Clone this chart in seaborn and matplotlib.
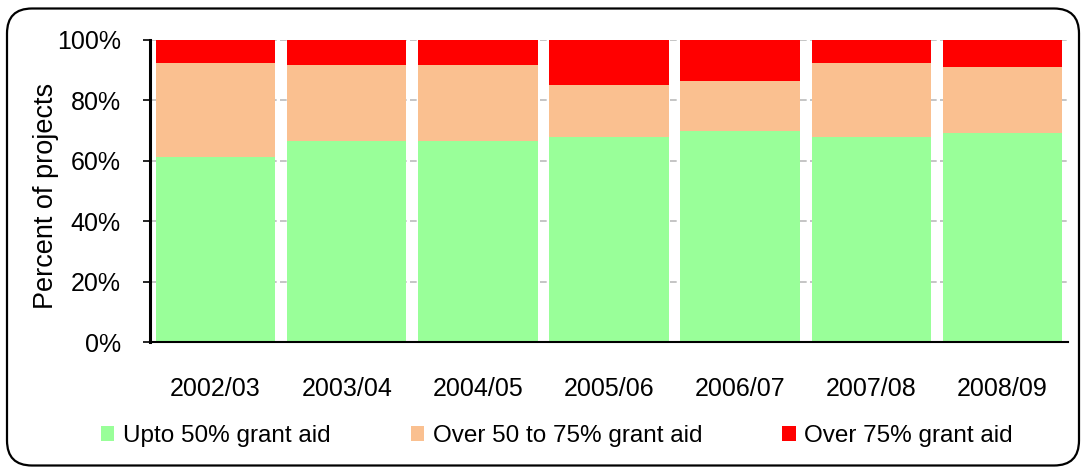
import matplotlib
matplotlib.use("Agg")
import matplotlib.pyplot as plt
from matplotlib.patches import FancyBboxPatch, Patch
from matplotlib.ticker import FixedLocator, PercentFormatter
import numpy as np
import pandas as pd
import seaborn as sns

# Share of projects by grant-aid band, per financial year (percent)
years = ["2002/03", "2003/04", "2004/05", "2005/06", "2006/07", "2007/08", "2008/09"]
upto_50 = [61.2, 66.6, 66.6, 67.9, 69.8, 67.9, 69.2]
over_50_75 = [31.2, 25.2, 25.2, 17.3, 16.7, 24.5, 21.9]
over_75 = [7.6, 8.2, 8.2, 14.8, 13.5, 7.6, 8.9]

series_names = ["Upto 50% grant aid", "Over 50 to 75% grant aid", "Over 75% grant aid"]
series_colors = ["#99FF99", "#FAC090", "#FF0000"]

sns.set_theme(style="white")
plt.rcParams["font.family"] = ["Liberation Sans", "DejaVu Sans"]
plt.rcParams["text.color"] = "black"
plt.rcParams["axes.labelcolor"] = "black"
plt.rcParams["xtick.color"] = "black"
plt.rcParams["ytick.color"] = "black"

fig = plt.figure(figsize=(10.83, 4.68), dpi=100)
ax = fig.add_axes([150 / 1083, 1 - 342 / 468, 918 / 1083, 302 / 468])

df = pd.DataFrame({"year": years, "low": upto_50, "mid": over_50_75, "high": over_75})
bottom = np.zeros(len(years))
for col, color in zip(["low", "mid", "high"], series_colors):
    sns.barplot(data=df, x="year", y=col, color=color, width=0.91,
                bottom=bottom, linewidth=0, saturation=1, ax=ax, zorder=2)
    bottom = bottom + df[col].to_numpy()

ax.set_xlim(-0.5, len(years) - 0.5)
ax.set_ylim(0, 100)
ax.yaxis.set_major_locator(FixedLocator([0, 20, 40, 60, 80, 100]))
ax.yaxis.set_major_formatter(PercentFormatter(decimals=0))
ax.grid(axis="y", color="#BBBBBB", linestyle=(0, (4, 2)), linewidth=1.2, zorder=0)
ax.set_axisbelow(True)

# category labels on centre ticks, tick marks on the boundaries
ax.set_xticks(range(len(years)))
ax.set_xticklabels(years)
ax.set_xticks(np.arange(-0.5, len(years)), minor=True)
ax.tick_params(axis="x", which="major", length=0, pad=25, labelsize=18, labelcolor="black")
ax.tick_params(axis="x", which="minor", length=5, width=1.2, color="black", direction="out")
ax.tick_params(axis="y", length=5, width=1.2, color="black", direction="out",
               pad=16, labelsize=18, left=True, labelcolor="black")
ax.set_xlabel("")
ax.set_ylabel("Percent of projects", fontsize=19.5, color="black")
ax.yaxis.set_label_coords(-0.099, 0.485)

for side in ["top", "right"]:
    ax.spines[side].set_visible(False)
ax.spines["left"].set_color("black")
ax.spines["left"].set_linewidth(2.2)
ax.spines["bottom"].set_color("black")
ax.spines["bottom"].set_linewidth(1.5)

handles = [Patch(facecolor=c, edgecolor="none") for c in series_colors]
fig.legend(handles, series_names, loc="center left", ncol=3, frameon=False,
           bbox_to_anchor=(101 / 1083, 1 - 436 / 468), fontsize=17.5,
           handlelength=0.55, handleheight=0.55, handletextpad=0.35,
           columnspacing=3.3, borderaxespad=0, borderpad=0)

# rounded outer border
frame = FancyBboxPatch((0.07, 0.025), 10.72, 4.57,
                       boxstyle="round,pad=0,rounding_size=0.25",
                       transform=fig.dpi_scale_trans, facecolor="none",
                       edgecolor="black", linewidth=1.6, zorder=10)
fig.patches.append(frame)

fig.savefig("out.png", dpi=100)
